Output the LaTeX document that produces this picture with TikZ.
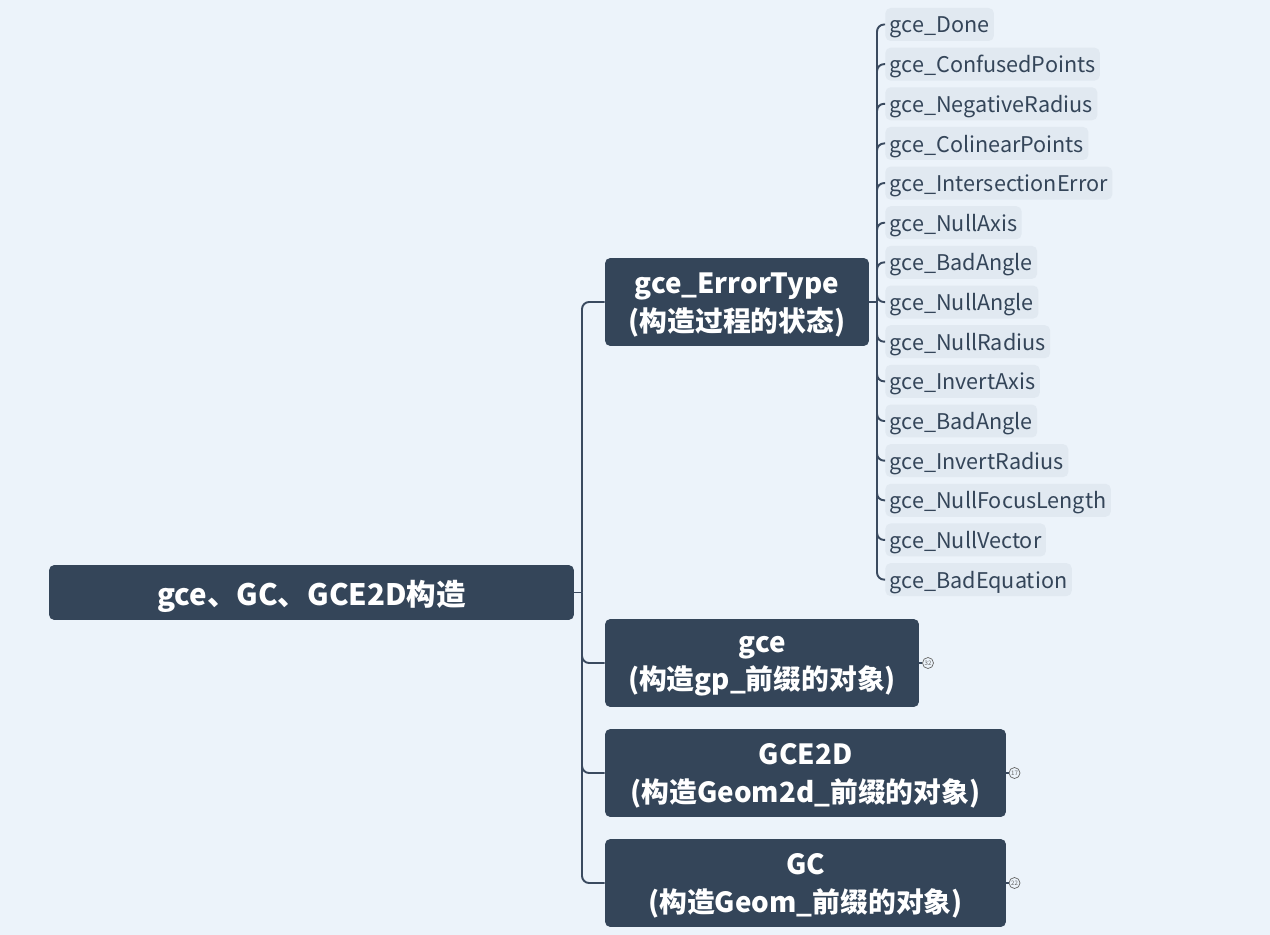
\documentclass[tikz,border=0pt]{standalone}
\usepackage{fontspec}
\setmainfont{Noto Sans CJK SC}
\definecolor{pagebg}{HTML}{ECF3FA}
\definecolor{topicbg}{HTML}{344559}
\definecolor{leafbg}{HTML}{E1E9F1}
\definecolor{linecol}{HTML}{3A4A5F}
\usetikzlibrary{positioning, calc}
\tikzset{
  topic/.style={
    fill=topicbg, rounded corners=3pt, text=white, align=center,
    font=\fontsize{15.8}{21.5}\selectfont\bfseries, inner sep=0pt,
    text depth=0pt
  },
  leaf/.style={
    fill=leafbg, rounded corners=3pt, text=topicbg, anchor=west,
    minimum height=0.66cm, inner xsep=0.09cm, inner ysep=0pt,
    font=\fontsize{12.3}{14}\selectfont, text depth=0pt
  },
  link/.style={draw=linecol, line width=1.1pt, rounded corners=4pt},
  badge/.style={circle, draw=gray!80!black, fill=pagebg, line width=0.4pt,
    inner sep=0pt, minimum size=0.22cm, font=\fontsize{3.5}{3.5}\selectfont, text=gray!80!black},
}

\begin{document}
\begin{tikzpicture}[x=0.02cm, y=-0.02cm]
  \useasboundingbox[fill=pagebg] (0,0) rectangle (1270,935);

  % Topics
  \node[topic, minimum width=10.5cm, minimum height=1.1cm,
    font=\fontsize{16.8}{20}\selectfont\bfseries] (root) at (311.5,592.5)
    {gce、GC、GCE2D构造};
  \node[topic, minimum width=5.28cm, minimum height=1.76cm] (err) at (737,302)
    {gce\_ErrorType\\(构造过程的状态)};
  \node[topic, minimum width=6.28cm, minimum height=1.76cm] (gce) at (762,663)
    {gce\\(构造gp\_前缀的对象)};
  \node[topic, minimum width=8.02cm, minimum height=1.76cm] (gcetd) at (805.5,773)
    {GCE2D\\(构造Geom2d\_前缀的对象)};
  \node[topic, minimum width=8.02cm, minimum height=1.76cm] (gc) at (805.5,883)
    {GC\\(构造Geom\_前缀的对象)};

  \coordinate (hub) at (582,592.5);
  \draw[link] (root.east) -- (hub);
  \foreach \t in {err, gce, gcetd, gc}
    \draw[link] (hub) |- (\t.west);

  % Error values
  \coordinate (lhub) at (877,302);
  \draw[link] (err.east) -- (lhub);
  \foreach \name [count=\i from 0] in {Done, ConfusedPoints, NegativeRadius,
      ColinearPoints, IntersectionError, NullAxis, BadAngle, NullAngle,
      NullRadius, InvertAxis, BadAngle, InvertRadius, NullFocusLength,
      NullVector, BadEquation} {
    \node[leaf] (leaf\i) at (885,{24.5+39.65*\i}) {gce\_\name};
    \draw[link] (lhub) |- (leaf\i.west);
  }

  % Collapsed counts
  \node[badge] (ngce) at (928,663) {32};
  \node[badge] (ngcetd) at (1014.5,773) {17};
  \node[badge] (ngc) at (1014.5,883) {22};
  \draw[link, line width=0.8pt] (gce.east) -- (ngce.west);
  \draw[link, line width=0.8pt] (gcetd.east) -- (ngcetd.west);
  \draw[link, line width=0.8pt] (gc.east) -- (ngc.west);
\end{tikzpicture}
\end{document}
